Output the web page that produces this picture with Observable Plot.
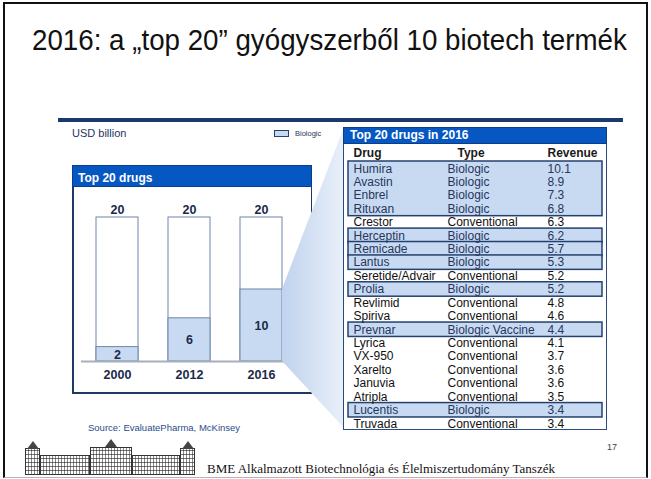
<!DOCTYPE html>
<html>
<head>
<meta charset="utf-8">
<script src="https://cdn.jsdelivr.net/npm/d3@7"></script>
<script src="https://cdn.jsdelivr.net/npm/@observablehq/plot@0.6"></script>
<style>
  html, body { margin: 0; padding: 0; background: #fff; }
  body { width: 651px; height: 479px; position: relative; overflow: hidden; font-family: "Liberation Sans", Arial, sans-serif; }
  .abs { position: absolute; white-space: nowrap; line-height: 1; }
  #frame { position: absolute; left: 3px; top: 2px; width: 645px; height: 476px; box-sizing: border-box;
           border-left: 2.5px solid #111; border-top: 2.5px solid #111; border-right: 2.5px solid #111; border-bottom: 1.5px solid #b5b5b5; }
  #title { left: 32px; top: 25.5px; font-size: 29px; color: #111; transform: scaleX(0.956); transform-origin: 0 0; }
  #rule { position: absolute; left: 58px; top: 118px; width: 565px; height: 3.5px; background: #1b3a6b; }
  #usd { left: 72px; top: 127.7px; font-size: 11px; color: #1f3560; }
  #legsw { position: absolute; left: 274px; top: 130px; width: 15px; height: 7px; box-sizing: border-box; background: #c8daf1; border: 1px solid #27426f; }
  #legtx { left: 295px; top: 129.7px; font-size: 7.5px; color: #1f3560; }
  #lpanel { position: absolute; left: 72px; top: 165px; width: 240px; height: 229px; box-sizing: border-box;
            border-left: 2px solid #1f3864; border-bottom: 2px solid #1f3864; border-right: 1px solid #1f3864; }
  #lhead { position: absolute; left: 72px; top: 165px; width: 240px; height: 22px; background: #0757c2; box-sizing: border-box; border: 1px solid #0a3f88; }
  #lheadtx { left: 78px; top: 171.8px; font-size: 12px; font-weight: bold; color: #fff; }
  #bars { position: absolute; left: 72px; top: 187px; }
  #wedge { position: absolute; left: 0; top: 0; }
  #tframe { position: absolute; left: 343px; top: 127px; width: 264px; height: 303px; box-sizing: border-box; border: 1.5px solid #2a4a80; background: #fff; }
  #thead { position: absolute; left: 343px; top: 127px; width: 264px; height: 17px; background: #0757c2; box-sizing: border-box; border: 1px solid #0a3f88; }
  #theadtx { left: 350px; top: 128.8px; font-size: 12px; font-weight: bold; color: #fff; }
  #table { position: absolute; left: 343px; top: 144px; }
  #source { left: 88px; top: 423px; font-size: 9.5px; color: #2a4c8c; }
  #page { left: 607px; top: 443.4px; font-size: 9px; color: #444; }
  #dept { left: 207px; top: 462.1px; font-size: 13px; color: #111; font-family: "Liberation Serif", "Times New Roman", serif; }
  .lg { position: absolute; box-sizing: border-box; border: 1px solid #333;
        background:
          repeating-linear-gradient(90deg, transparent 0 2px, rgba(40,40,40,0.55) 2px 3px),
          repeating-linear-gradient(0deg, #fff 0 3px, #777 3px 4px); }
  .roof { position: absolute; width: 0; height: 0; border-left: 6px solid transparent; border-right: 6px solid transparent; border-bottom: 8px solid #444; }
</style>
</head>
<body>
<div id="frame"></div>
<div id="title" class="abs">2016: a „top 20” gyógyszerből 10 biotech termék</div>
<div id="rule"></div>
<div id="usd" class="abs">USD billion</div>
<div id="legsw"></div>
<div id="legtx" class="abs">Biologic</div>
<div id="lpanel"></div>
<div id="lhead"></div>
<div id="lheadtx" class="abs">Top 20 drugs</div>
<div id="bars"></div>
<svg id="wedge" width="651" height="479"></svg>
<div id="tframe"></div>
<div id="thead"></div>
<div id="theadtx" class="abs">Top 20 drugs in 2016</div>
<div id="table"></div>
<div id="source" class="abs">Source: EvaluatePharma, McKinsey</div>
<div id="page" class="abs">17</div>
<!-- logo (decorative building) -->
<div class="lg" style="left:25px;top:448px;width:15px;height:27px;"></div>
<div class="roof" style="left:26.5px;top:441px;"></div>
<div class="lg" style="left:40px;top:455px;width:50px;height:20px;"></div>
<div class="lg" style="left:90px;top:447px;width:42px;height:28px;"></div>
<div class="roof" style="left:105px;top:439px;"></div>
<div class="lg" style="left:132px;top:455px;width:48px;height:20px;"></div>
<div class="lg" style="left:180px;top:448px;width:15px;height:27px;"></div>
<div class="roof" style="left:181.5px;top:441px;"></div>
<div id="dept" class="abs">BME Alkalmazott Biotechnológia és Élelmiszertudomány Tanszék</div>

<script>
// ---- Data ----
const years = ["2000", "2012", "2016"];
const totalDrugs = [20, 20, 20];
const biologicDrugs = [2, 6, 10];

const drugs = ["Humira", "Avastin", "Enbrel", "Rituxan", "Crestor", "Herceptin", "Remicade", "Lantus",
  "Seretide/Advair", "Prolia", "Revlimid", "Spiriva", "Prevnar", "Lyrica", "VX-950", "Xarelto",
  "Januvia", "Atripla", "Lucentis", "Truvada"];
const drugTypes = ["Biologic", "Biologic", "Biologic", "Biologic", "Conventional", "Biologic", "Biologic", "Biologic",
  "Conventional", "Biologic", "Conventional", "Conventional", "Biologic Vaccine", "Conventional", "Conventional", "Conventional",
  "Conventional", "Conventional", "Biologic", "Conventional"];
const revenues = [10.1, 8.9, 7.3, 6.8, 6.3, 6.2, 5.7, 5.3, 5.2, 5.2, 4.8, 4.6, 4.4, 4.1, 3.7, 3.6, 3.6, 3.5, 3.4, 3.4];
const columnHeaders = ["Drug", "Type", "Revenue"];
// highlighted boxes in the table (first drug, last drug)
const boxedGroups = [["Humira", "Rituxan"], ["Herceptin", "Herceptin"], ["Remicade", "Remicade"], ["Lantus", "Lantus"],
  ["Prolia", "Prolia"], ["Prevnar", "Prevnar"], ["Lucentis", "Lucentis"]];

// ---- Styles ----
const bioFill = "#c8daf1";
const barStroke = "#6f86a8";
const labelColor = "#1b2a4a";
const font = "'Liberation Sans', Arial, sans-serif";

// ---- Left bar chart ----
const barData = years.map((y, i) => ({year: y, total: totalDrugs[i], bio: biologicDrugs[i]}));

const bars = Plot.plot({
  width: 240, height: 207,
  marginLeft: 9, marginRight: 15, marginTop: 30, marginBottom: 33,
  style: {fontFamily: font, background: "transparent", overflow: "visible"},
  x: {type: "band", domain: years, range: [9, 225], paddingInner: 30 / 72, paddingOuter: 15 / 72, axis: null},
  y: {domain: [0, 20], range: [174, 30], axis: null},
  marks: [
    Plot.barY(barData, {x: "year", y: "total", fill: "#fff", stroke: barStroke, strokeWidth: 1}),
    Plot.barY(barData, {x: "year", y: "bio", fill: bioFill, stroke: barStroke, strokeWidth: 1}),
    Plot.ruleY([0], {stroke: "#a7aebb", strokeWidth: 2}),
    Plot.text(barData, {x: "year", y: "total", text: d => String(d.total), lineAnchor: "middle", dy: -8,
      fontSize: 12.5, fontWeight: "bold", fill: labelColor}),
    Plot.text(barData, {x: "year", y: d => d.bio / 2, text: d => String(d.bio), lineAnchor: "middle", dy: 0.5,
      fontSize: 12.5, fontWeight: "bold", fill: labelColor}),
    Plot.text(barData, {x: "year", y: () => 0, text: "year", lineAnchor: "middle", dy: 13,
      fontSize: 12.5, fontWeight: "bold", fill: labelColor})
  ]
});
document.getElementById("bars").appendChild(bars);

// ---- Wedge linking the 2016 bar to the table (derived from the bar chart's scales) ----
{
  const xs = bars.scale("x"), ys = bars.scale("y");
  const bx = 72 + xs.apply("2016") + xs.bandwidth;
  const yTop = 187 + ys.apply(biologicDrugs[2]);
  const yBot = 187 + ys.apply(0);
  const tx = 344, tTop = 127, tBot = 428;
  const svg = d3.select("#wedge");
  const defs = svg.append("defs");
  const g = defs.append("linearGradient").attr("id", "wg").attr("gradientUnits", "userSpaceOnUse")
    .attr("x1", bx).attr("y1", 0).attr("x2", tx).attr("y2", 0);
  g.append("stop").attr("offset", 0).attr("stop-color", "#c0d2ed");
  g.append("stop").attr("offset", 1).attr("stop-color", "#e9f0f9");
  svg.append("polygon")
    .attr("points", [[bx, yTop], [tx, tTop], [tx, tBot], [bx, yBot]].map(p => p.join(",")).join(" "))
    .attr("fill", "url(#wg)");
}

// ---- Right table ----
const rows = drugs.map((d, i) => ({drug: d, type: drugTypes[i], revenue: revenues[i], i, bio: drugTypes[i] !== "Conventional"}));
const boxes = boxedGroups.map(([a, b]) => ({y1: drugs.indexOf(a), y2: drugs.indexOf(b) + 1}));
const colDx = [5, 99, 199];
const headDx = [5, 109, 199];
const rowH = 13.42;

const table = Plot.plot({
  width: 264, height: 286,
  marginLeft: 5, marginRight: 5, marginTop: 0, marginBottom: 0,
  style: {fontFamily: font, background: "transparent", overflow: "visible"},
  color: {type: "identity"},
  y: {domain: [-1, 20], range: [17 - rowH, 17 + 20 * rowH], axis: null},
  marks: [
    Plot.rect(boxes, {y1: "y1", y2: "y2", fill: bioFill, stroke: "#24406e", strokeWidth: 1.5, insetBottom: -1}),
    ...columnHeaders.map((h, k) => Plot.text([h], {y: () => -0.5, text: d => d, frameAnchor: "left", textAnchor: "start",
      dx: headDx[k], dy: -1.8, lineAnchor: "middle", fontSize: 12, fontWeight: "bold", fill: "#1a1a1a"})),
    Plot.text(rows, {y: d => d.i + 0.5, text: "drug", frameAnchor: "left", textAnchor: "start", dx: colDx[0], dy: 0.5,
      lineAnchor: "middle", fontSize: 12, fill: d => d.bio ? "#26365e" : "#111"}),
    Plot.text(rows, {y: d => d.i + 0.5, text: "type", frameAnchor: "left", textAnchor: "start", dx: colDx[1], dy: 0.5,
      lineAnchor: "middle", fontSize: 12, fill: d => d.bio ? "#26365e" : "#111"}),
    Plot.text(rows, {y: d => d.i + 0.5, text: d => d.revenue.toFixed(1), frameAnchor: "left", textAnchor: "start", dx: colDx[2], dy: 0.5,
      lineAnchor: "middle", fontSize: 12, fill: d => d.bio ? "#26365e" : "#111"})
  ]
});
document.getElementById("table").appendChild(table);
</script>
</body>
</html>
